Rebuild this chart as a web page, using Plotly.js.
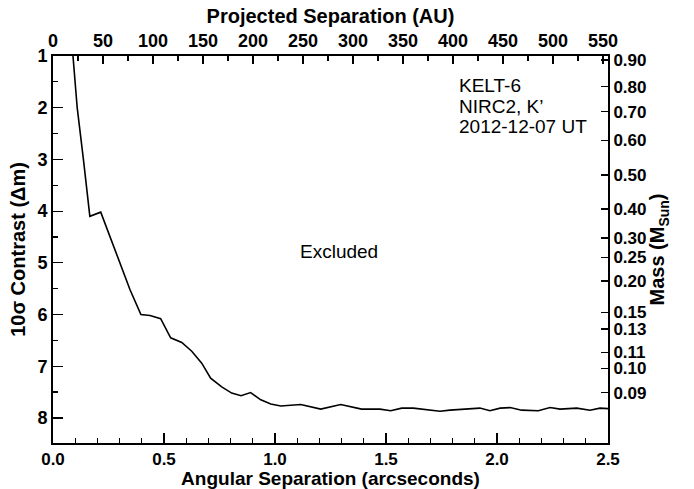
<!DOCTYPE html>
<html>
<head>
<meta charset="utf-8">
<script src="https://cdn.plot.ly/plotly-3.0.1.min.js"></script>
<style>
  html, body { margin: 0; padding: 0; background: #fff; }
  #chart { width: 694px; height: 489px; }
</style>
</head>
<body>
<div id="chart"></div>
<script>
// Contrast curve: angular separation (arcsec) vs 10-sigma contrast (delta mag)
const separation = [0.090, 0.109, 0.137, 0.166, 0.215, 0.287, 0.347, 0.396, 0.437, 0.485,
  0.530, 0.580, 0.625, 0.670, 0.710, 0.760, 0.805, 0.847, 0.890, 0.936,
  0.981, 1.026, 1.116, 1.206, 1.296, 1.390, 1.473, 1.521, 1.571, 1.623,
  1.743, 1.788, 1.923, 1.968, 2.014, 2.059, 2.111, 2.186, 2.239, 2.284,
  2.359, 2.419, 2.464, 2.500];
const contrast = [1.00, 2.00, 3.00, 4.10, 4.02, 4.82, 5.52, 6.00, 6.02, 6.08,
  6.45, 6.54, 6.71, 6.94, 7.23, 7.40, 7.52, 7.57, 7.51, 7.65,
  7.73, 7.77, 7.74, 7.83, 7.74, 7.83, 7.83, 7.86, 7.81, 7.81,
  7.87, 7.85, 7.81, 7.86, 7.81, 7.80, 7.85, 7.86, 7.80, 7.83,
  7.81, 7.85, 7.81, 7.82];

// Right axis: mass labels and the contrast at which each sits
const massLabels = ["0.90","0.80","0.70","0.60","0.50","0.40","0.30","0.25","0.20","0.15","0.13","0.11","0.10","0.09"];
const massContrast = [1.077, 1.594, 2.077, 2.635, 3.30, 3.96, 4.52, 4.89, 5.35, 5.96, 6.28, 6.73, 7.04, 7.51];

// Top axis: projected separation (AU) per arcsecond (distance in pc)
const auPerArcsec = 222;
const sepMax = 2.5;
const contrastRange = [8.485, 1];

const infoLines = ["KELT-6", "NIRC2, K’", "2012-12-07 UT"];
const infoContrast = [1.58, 1.98, 2.37];
const infoSep = 1.82;
const regionLabel = "Excluded";
const regionPos = [1.29, 4.79];

const FONT = "Liberation Sans, Arial, Helvetica, sans-serif";
const tickFont = {family: FONT, size: 18, color: "#000", weight: "bold"};
const bottomTickFont = {family: FONT, size: 17, color: "#000", weight: "bold"};
const rightTickFont = {family: FONT, size: 17, color: "#000", weight: "bold"};
const titleFont = {family: FONT, size: 20, color: "#000", weight: "bold"};
const noteFont = {family: FONT, size: 19, color: "#000"};

const traces = [
  {
    x: separation, y: contrast, type: "scatter", mode: "lines",
    line: {color: "#000", width: 1.6}, hoverinfo: "skip", showlegend: false,
    xaxis: "x", yaxis: "y"
  },
  {
    x: [], y: [], type: "scatter", mode: "lines", showlegend: false,
    hoverinfo: "skip", xaxis: "x2", yaxis: "y2"
  }
];

const annotations = infoLines.map((t, i) => ({
  x: infoSep, y: infoContrast[i], xref: "x", yref: "y",
  xanchor: "left", yanchor: "middle", text: t, showarrow: false, font: noteFont
}));
annotations.push({
  x: regionPos[0], y: regionPos[1], xref: "x", yref: "y",
  xanchor: "center", yanchor: "middle", text: regionLabel, showarrow: false, font: noteFont
});

const layout = {
  width: 694, height: 489,
  margin: {l: 53, r: 86, t: 56, b: 46},
  paper_bgcolor: "#fff", plot_bgcolor: "#fff",
  showlegend: false,
  xaxis: {
    range: [0, sepMax], side: "bottom",
    showline: true, linecolor: "#000", linewidth: 2,
    ticks: "inside", ticklen: 10, tickwidth: 1.2, tickcolor: "#000",
    dtick: 0.5, tick0: 0, tickformat: ".1f",
    minor: {dtick: 0.1, ticks: "inside", ticklen: 5, tickwidth: 1.2, tickcolor: "#000", showgrid: false},
    showgrid: false, zeroline: false, mirror: false,
    tickfont: bottomTickFont,
    title: {text: "Angular Separation (arcseconds)", font: {family: FONT, size: 19, color: "#000", weight: "bold"}, standoff: 1}
  },
  xaxis2: {
    range: [0, sepMax * auPerArcsec], overlaying: "x", side: "top",
    showline: true, linecolor: "#000", linewidth: 2,
    ticks: "inside", ticklen: 8, tickwidth: 1.2, tickcolor: "#000",
    dtick: 50, tick0: 0,
    minor: {dtick: 25, ticks: "inside", ticklen: 5, tickwidth: 1.2, tickcolor: "#000", showgrid: false},
    showgrid: false, zeroline: false,
    tickfont: tickFont,
    title: {text: "Projected Separation (AU)", font: titleFont, standoff: 2}
  },
  yaxis: {
    range: contrastRange,
    showline: true, linecolor: "#000", linewidth: 2,
    ticks: "inside", ticklen: 10, tickwidth: 1.2, tickcolor: "#000",
    dtick: 1, tick0: 0,
    minor: {dtick: 0.5, ticks: "inside", ticklen: 5, tickwidth: 1.2, tickcolor: "#000", showgrid: false},
    showgrid: false, zeroline: false, mirror: false,
    tickfont: tickFont,
    title: {text: "10σ Contrast (Δm)", font: titleFont, standoff: 6}
  },
  yaxis2: {
    range: contrastRange, overlaying: "y", side: "right",
    showline: true, linecolor: "#000", linewidth: 2,
    ticks: "inside", ticklen: 7, tickwidth: 1.2, tickcolor: "#000",
    tickmode: "array", tickvals: massContrast, ticktext: massLabels,
    showgrid: false, zeroline: false,
    tickfont: rightTickFont,
    title: {text: "Mass (M<sub>Sun</sub>)", font: titleFont, standoff: 2}
  },
  annotations: annotations
};

Plotly.newPlot("chart", traces, layout, {staticPlot: true, displayModeBar: false});
</script>
</body>
</html>
